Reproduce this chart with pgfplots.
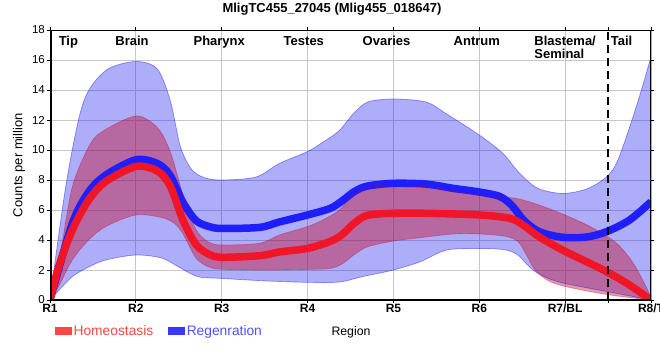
\documentclass[border=0pt]{standalone}
\usepackage{pgfplots}
\pgfplotsset{compat=1.18}
\usepgfplotslibrary{fillbetween}
\usepackage{fontspec}
\setmainfont{Liberation Sans}
\definecolor{hred}{RGB}{240,22,40}
\definecolor{rblue}{RGB}{30,30,255}
\definecolor{bandblue}{RGB}{20,20,240}
\definecolor{bandred}{RGB}{200,0,30}
\definecolor{legred}{RGB}{255,70,70}
\definecolor{legblue}{RGB}{80,80,255}
\newcommand\legfont{\fontsize{13.8}{14}\selectfont}
\begin{document}
\begin{tikzpicture}
\begin{axis}[
  at={(50pt,60pt)}, anchor=south west, scale only axis,
  width=601pt, height=270pt,
  xmin=1, xmax=8, ymin=0, ymax=18,
  xtick={1,...,8},
  xticklabels={R1,R2,R3,R4,R5,R6,R7/BL,R8/T},
  ytick={0,2,...,18},
  extra x ticks={7.5}, extra x tick labels={}, extra x tick style={grid=none},
  grid=major, grid style={draw=black!22, line width=0.9pt},
  axis line style={draw=none},
  tick style={black, line width=0.9pt},
  tick align=outside, major tick length=3pt,
  /pgf/number format/assume math mode=true,
  xticklabel style={font=\bfseries\fontsize{12}{12}\selectfont, inner sep=1pt},
  yticklabel style={font=\fontsize{11.5}{12}\selectfont, inner sep=2pt},
  legend style={draw=none, fill=none, inner sep=0pt, column sep=0pt,
    at={(axis description cs:0.0083,-0.1148)}, anchor=west,
    /tikz/every even column/.append style={column sep=13pt}},
  legend columns=2,
]
% Regeneration band
\addplot[name path=BU, draw=bandblue, draw opacity=0.45, line width=0.7pt, smooth, forget plot] coordinates {
(1,0) (1.19,7.8) (1.39,13.2) (1.65,15.3) (2,15.9) (2.25,15.4) (2.4,13.3) (2.52,10.2) (2.65,8.7) (2.8,8.15) (3,8.0) (3.4,8.2) (3.67,9.1) (4,9.9) (4.2,10.6) (4.37,11.3) (4.53,12.4) (4.7,13.2) (5,13.4) (5.38,13.2) (5.62,12.4) (6,11.0) (6.27,9.8) (6.43,8.7) (6.55,8.0) (6.7,7.4) (6.97,7.1) (7.25,7.4) (7.48,8.2) (7.62,9.4) (7.84,13.1) (8,16.2)};
\addplot[name path=BL, draw=bandblue, draw opacity=0.45, line width=0.7pt, smooth, forget plot] coordinates {
(1,0) (1.07,0.44) (1.26,1.56) (1.45,2.2) (1.65,2.67) (2,3.0) (2.3,2.8) (2.5,2.2) (2.72,1.56) (3,1.44) (3.52,1.27) (4,1.18) (4.37,1.2) (4.64,1.56) (5,2.0) (5.31,2.55) (5.62,3.33) (6,3.44) (6.3,3.35) (6.45,3.0) (6.55,2.4) (6.65,1.9) (6.8,1.45) (7,1.1) (7.5,0.55) (8,0)};
\addplot[fill=bandblue, fill opacity=0.35, draw=none, forget plot] fill between[of=BU and BL];
% Regeneration line
\addplot[rblue, line width=7.5pt, smooth, forget plot] coordinates {
(1,0) (1.26,5.1) (1.45,7.2) (1.65,8.33) (2,9.35) (2.25,9.1) (2.4,8.3) (2.55,6.5) (2.7,5.3) (2.85,4.9) (3,4.77) (3.44,4.84) (3.67,5.2) (4,5.67) (4.26,6.1) (4.4,6.6) (4.55,7.25) (4.7,7.6) (5,7.78) (5.38,7.73) (5.7,7.44) (6,7.2) (6.24,6.9) (6.38,6.3) (6.52,5.3) (6.7,4.55) (6.97,4.18) (7.25,4.2) (7.48,4.55) (7.75,5.33) (8,6.55)};
% Homeostasis band
\addplot[name path=RU, draw=bandred, draw opacity=0.35, line width=0.7pt, smooth, forget plot] coordinates {
(1,0) (1.12,3.1) (1.26,7.55) (1.45,10.2) (1.6,11.2) (2,12.27) (2.25,11.5) (2.4,9.9) (2.55,7.0) (2.7,4.7) (2.85,3.85) (3,3.67) (3.44,3.78) (3.67,4.33) (4,4.9) (4.2,5.4) (4.37,6.0) (4.53,7.0) (4.7,7.5) (5,7.6) (5.38,7.55) (6,7.0) (6.24,6.9) (6.51,6.67) (6.9,5.9) (7.29,4.9) (7.6,3.78) (7.8,2.4) (7.96,0.67) (8,0)};
\addplot[name path=RL, draw=bandred, draw opacity=0.35, line width=0.7pt, smooth, forget plot] coordinates {
(1,0) (1.1,0.9) (1.26,2.67) (1.45,4.0) (1.65,4.9) (2,5.67) (2.3,5.5) (2.45,5.1) (2.55,4.4) (2.7,2.8) (2.85,2.2) (3,2.05) (3.52,2.0) (4,2.04) (4.26,2.1) (4.4,2.4) (4.55,3.05) (4.7,3.55) (5,3.93) (5.38,4.2) (5.7,4.4) (6,4.4) (6.3,4.25) (6.45,3.9) (6.55,3.0) (6.65,2.0) (6.8,1.3) (7,0.9) (7.5,0.35) (8,0)};
\addplot[fill=bandred, fill opacity=0.4, draw=none, forget plot] fill between[of=RU and RL];
% Homeostasis line
\addplot[hred, line width=7.5pt, smooth, forget plot] coordinates {
(1,0) (1.1,2.2) (1.26,4.67) (1.45,6.67) (1.65,7.9) (2,8.9) (2.25,8.6) (2.4,7.6) (2.55,5.3) (2.7,3.7) (2.85,3.05) (3,2.85) (3.44,2.95) (3.67,3.2) (4,3.44) (4.26,3.9) (4.4,4.35) (4.55,5.15) (4.7,5.65) (5,5.78) (5.38,5.78) (6,5.67) (6.36,5.44) (6.51,5.0) (6.7,4.2) (6.97,3.33) (7.25,2.55) (7.48,1.9) (7.75,1.0) (8,0)};
% dashed separator
\addplot[black, line width=2.8pt, dash pattern=on 8pt off 5pt, forget plot] coordinates {(7.5,0) (7.5,18)};
% legend
\addlegendimage{legend image code/.code={\fill[legred] (0pt,-3.5pt) rectangle (16pt,3.5pt);}}
\addlegendentry{\legfont\textcolor{legred}{Homeostasis}}
\addlegendimage{legend image code/.code={\fill[legblue!70!blue] (0pt,-3.5pt) rectangle (16pt,3.5pt);}}
\addlegendentry{\legfont\textcolor{legblue}{Regenration}}
% region labels
\begin{scope}[every node/.style={inner sep=0pt, anchor=base west, font=\bfseries\fontsize{13}{13}\selectfont}]
\node at (axis cs:1.10,17.0) {Tip};
\node at (axis cs:1.76,17.0) {Brain};
\node at (axis cs:2.67,17.0) {Pharynx};
\node at (axis cs:3.72,17.0) {Testes};
\node at (axis cs:4.64,17.0) {Ovaries};
\node at (axis cs:5.70,17.0) {Antrum};
\node at (axis cs:6.64,17.0) {Blastema/};
\node at (axis cs:6.64,16.07) {Seminal};
\node at (axis cs:7.53,17.0) {Tail};
\end{scope}
% frame
\draw[black, line width=1.5pt] (rel axis cs:0,0) rectangle (rel axis cs:1,1);
\draw[black, line width=3pt] (rel axis cs:0,1) -- (rel axis cs:0,0) -- (rel axis cs:1,0);
\end{axis}
\node[font=\bfseries\fontsize{13}{13}\selectfont] at (332pt,351pt) {MligTC455\_27045 (Mlig455\_018647)};
\node[rotate=90, font=\fontsize{13}{13}\selectfont] at (19pt,195pt) {Counts per million};
\node[font=\fontsize{12.3}{13}\selectfont] at (351pt,28pt) {Region};
\pgfresetboundingbox
\path[use as bounding box] (0pt,0pt) rectangle (660pt,360pt);
\end{tikzpicture}
\end{document}
